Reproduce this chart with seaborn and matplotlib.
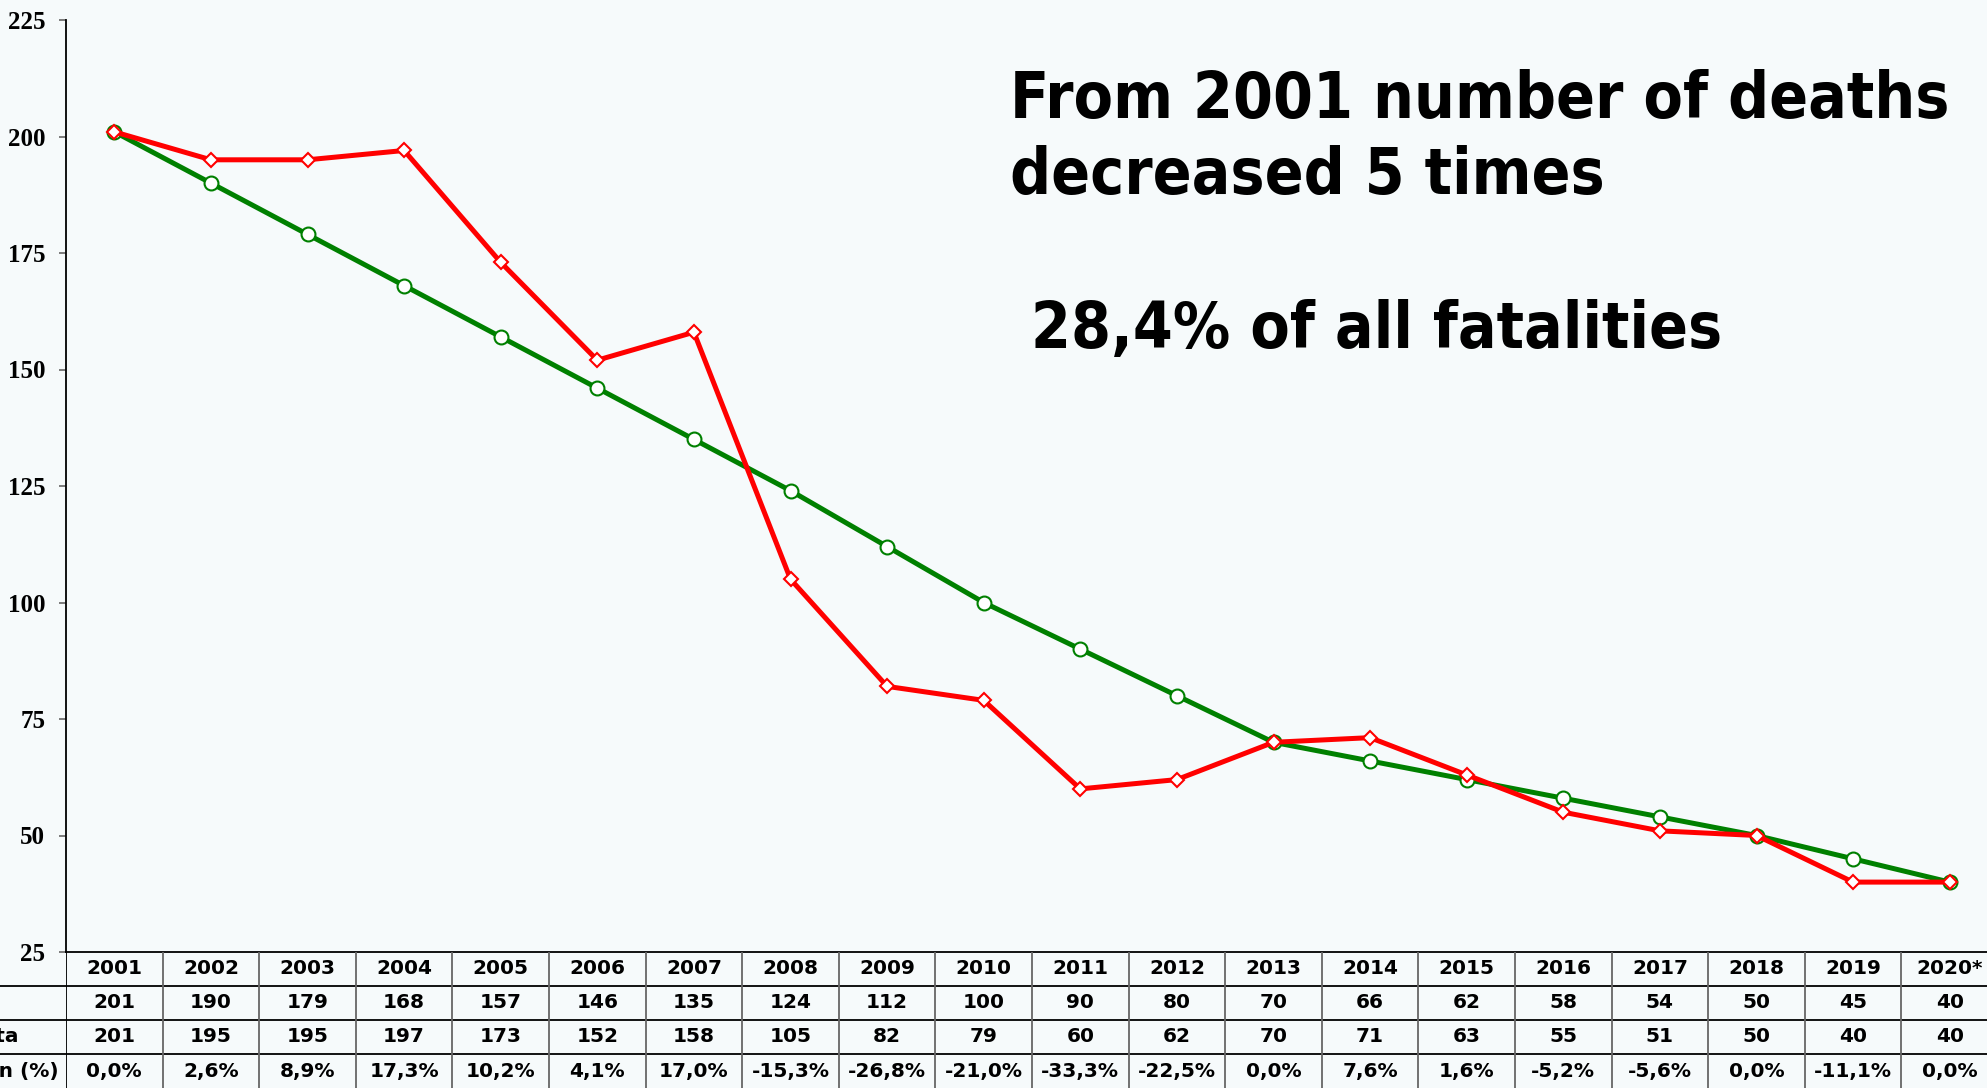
import numpy as np
import pandas as pd
import matplotlib
matplotlib.use('Agg')
import matplotlib.pyplot as plt
import seaborn as sns

sns.set_style("white")
plt.rcParams['font.family'] = ['DejaVu Sans']
plt.rcParams['text.color'] = 'black'
plt.rcParams['ytick.labelcolor'] = 'black'

years = list(range(2001, 2021))
year_labels = [str(y) for y in range(2001, 2020)] + ['2020*']
trend = [201, 190, 179, 168, 157, 146, 135, 124, 112, 100, 90, 80, 70, 66, 62, 58, 54, 50, 45, 40]
actual = [201, 195, 195, 197, 173, 152, 158, 105, 82, 79, 60, 62, 70, 71, 63, 55, 51, 50, 40, 40]
deviation = ['0,0%', '2,6%', '8,9%', '17,3%', '10,2%', '4,1%', '17,0%', '-15,3%', '-26,8%', '-21,0%',
             '-33,3%', '-22,5%', '0,0%', '7,6%', '1,6%', '-5,2%', '-5,6%', '0,0%', '-11,1%', '0,0%']
row_labels = ['', 'Trend', 'Actual data', 'Deviation (%)']

df = pd.DataFrame({'year': years, 'trend': trend, 'actual': actual})

bg = '#f6fafb'
W, H = 1987, 1088
fig = plt.figure(figsize=(W / 100, H / 100), dpi=100, facecolor=bg)

left = 66 / W
width = 1932 / W
bottom = 1 - 952 / H
top = 1 - 20 / H
ax = fig.add_axes([left, bottom, width, top - bottom], facecolor=bg)

sns.lineplot(data=df, x='year', y='trend', ax=ax, color='#008000', lw=3.6,
             marker='o', markersize=10, markerfacecolor='white',
             markeredgecolor='#008000', markeredgewidth=1.5, zorder=3)
sns.lineplot(data=df, x='year', y='actual', ax=ax, color='#ff0000', lw=3.6,
             marker='D', markersize=7.5, markerfacecolor='white',
             markeredgecolor='#ff0000', markeredgewidth=1.5, zorder=4)

ax.set_xlim(2000.5, 2020.5)
ax.set_ylim(25, 225)
ax.set_yticks(np.arange(25, 226, 25))
ax.set_xticks([])
ax.set_xlabel('')
ax.set_ylabel('')
for s in ['top', 'right']:
    ax.spines[s].set_visible(False)
ax.spines['left'].set_color('black')
ax.spines['left'].set_linewidth(1.3)
ax.spines['bottom'].set_color('black')
ax.spines['bottom'].set_linewidth(1.3)
ax.tick_params(axis='y', direction='out', length=5, width=1.2, color='#666666',
               pad=10, left=True)
for lab in ax.get_yticklabels():
    lab.set_fontfamily('Liberation Serif')
    lab.set_fontweight('bold')
    lab.set_fontsize(18)
    lab.set_color('black')

# table below the chart
ax_t = fig.add_axes([left, 0, width, bottom], facecolor=bg)
ax_t.set_xlim(2000.5, 2020.5)
ax_t.set_ylim(4, 0)
ax_t.axis('off')
ax_t.hlines([1, 2, 3], 2000.5 - 0.7, 2020.5, color='black', lw=1.3, clip_on=False)
ax_t.vlines([y + 0.5 for y in years[:-1]], 0, 4, color='#666666', lw=1.3)
ax_t.vlines([2000.5], 0, 4, color='black', lw=1.3)

rows = [year_labels, [str(v) for v in trend], [str(v) for v in actual], deviation]
for r, vals in enumerate(rows):
    for x, v in zip(years, vals):
        ax_t.text(x, r + 0.5, v, ha='center', va='center', fontsize=14.5,
                  fontweight='bold', color='black')

# row labels (cut off at the left edge, as in the source slide)
ax_t.text(2000.5 - 0.49, 2.5, row_labels[2], ha='right', va='center', fontsize=14.5,
          fontweight='bold', clip_on=False)
ax_t.text(2000.5 - 0.08, 3.5, row_labels[3], ha='right', va='center', fontsize=14.5,
          fontweight='bold', clip_on=False)

# annotations
note_kw = dict(fontsize=46, fontweight='heavy', fontstretch='condensed',
               va='baseline', ha='left', color='black')
fig.text(1010 / W, 1 - 118 / H, 'From 2001 number of deaths', **note_kw)
fig.text(1010 / W, 1 - 194 / H, 'decreased 5 times', **note_kw)
fig.text(1031 / W, 1 - 348 / H, '28,4% of all fatalities', **note_kw)

fig.savefig('out.png', dpi=100, facecolor=bg)
